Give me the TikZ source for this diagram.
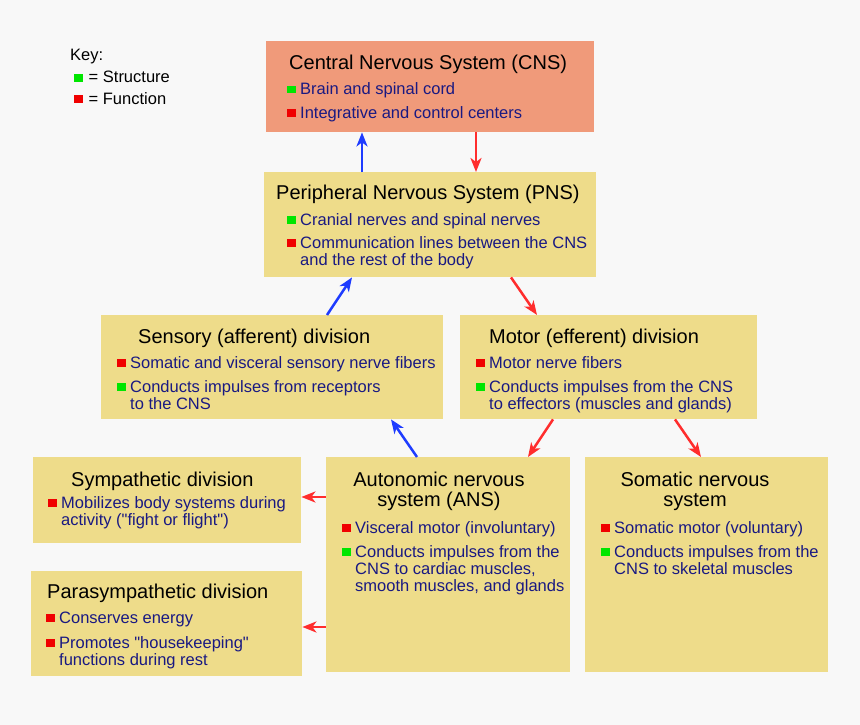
\documentclass[tikz,border=0pt]{standalone}
\usepackage{fontspec}
\setmainfont{Liberation Sans}[Ligatures=TeXOff]
\usetikzlibrary{arrows.meta}

\definecolor{bgcol}{RGB}{248,248,248}
\definecolor{cnscol}{RGB}{240,154,122}
\definecolor{boxcol}{RGB}{238,220,138}
\definecolor{navytext}{RGB}{25,25,130}
\definecolor{keygreen}{RGB}{0,230,0}
\definecolor{keyred}{RGB}{240,0,0}
\definecolor{arrowblue}{RGB}{30,60,255}
\definecolor{arrowred}{RGB}{255,45,45}

\newcommand{\titlefont}{\fontsize{20}{20}\selectfont}
\newcommand{\itemfont}{\fontsize{16.5}{17}\selectfont}
\newcommand{\bul}[1]{\textcolor{#1}{\rule[1.5pt]{8.5pt}{8pt}}\hspace{4.5pt}}
\newcommand{\ind}{\hspace*{13pt}}

\tikzstyle{block} = [rectangle, fill=boxcol, anchor=north west, inner sep=0pt]
\tikzstyle{heading} = [anchor=base west, inner sep=0pt, font=\titlefont, text=black]
\tikzstyle{itemlist} = [anchor=base west, inner sep=0pt, font=\itemfont, text=navytext]
\tikzstyle{arrowup} = [line width=2.5pt, draw=arrowblue, -{Stealth[length=14pt,width=11pt,inset=4pt]}]
\tikzstyle{arrowdown} = [line width=2.5pt, draw=arrowred, -{Stealth[length=14pt,width=11pt,inset=4pt]}]

\begin{document}
\begin{tikzpicture}[x = 1pt, y = -1pt]

% ----------------------------------------------------

  \fill[bgcol] (0,0) rectangle (860,725);
  \useasboundingbox (0,0) rectangle (860,725);

% key
  \node (key) [heading, font=\itemfont] at (70,61) {Key:};
  \node (keylist) [itemlist, text=black] at (74,83) {
  \begin{tabular}[t]{@{}l@{}}
    \bul{keygreen}\hspace{1.5pt}= Structure \\[4pt]
    \bul{keyred}\hspace{1.5pt}= Function
  \end{tabular}
  };

% ----------------------------------------------------

  \node (cns) [block, fill=cnscol, minimum width=328pt, minimum height=91pt] at (266,41) {};
  \node (cnstitle) [heading] at (289,70) {Central Nervous System (CNS)};
  \node (cnslist) [itemlist] at (287,95) {
  \begin{tabular}[t]{@{}l@{}}
    \bul{keygreen}Brain and spinal cord \\[6pt]
    \bul{keyred}Integrative and control centers
  \end{tabular}
  };

  \node (pns) [block, minimum width=332pt, minimum height=105pt] at (264,172) {};
  \node (pnstitle) [heading] at (276,199) {Peripheral Nervous System (PNS)};
  \node (pnslist) [itemlist] at (287,225) {
  \begin{tabular}[t]{@{}l@{}}
    \bul{keygreen}Cranial nerves and spinal nerves \\[6pt]
    \bul{keyred}Communication lines between the CNS \\
    \ind and the rest of the body
  \end{tabular}
  };

  \node (sensory) [block, minimum width=342pt, minimum height=104pt] at (101,315) {};
  \node (sensorytitle) [heading] at (138,343) {Sensory (afferent) division};
  \node (sensorylist) [itemlist] at (117,368) {
  \begin{tabular}[t]{@{}l@{}}
    \bul{keyred}Somatic and visceral sensory nerve fibers \\[7pt]
    \bul{keygreen}Conducts impulses from receptors \\
    \ind to the CNS
  \end{tabular}
  };

  \node (motor) [block, minimum width=297pt, minimum height=104pt] at (460,315) {};
  \node (motortitle) [heading] at (489,343) {Motor (efferent) division};
  \node (motorlist) [itemlist] at (476,368) {
  \begin{tabular}[t]{@{}l@{}}
    \bul{keyred}Motor nerve fibers \\[7pt]
    \bul{keygreen}Conducts impulses from the CNS \\
    \ind to effectors (muscles and glands)
  \end{tabular}
  };

  \node (symp) [block, minimum width=268pt, minimum height=86pt] at (33,457) {};
  \node (symptitle) [heading] at (71,486) {Sympathetic division};
  \node (symplist) [itemlist] at (48,508) {
  \begin{tabular}[t]{@{}l@{}}
    \bul{keyred}Mobilizes body systems during \\
    \ind activity ("fight or flight")
  \end{tabular}
  };

  \node (ans) [block, minimum width=244pt, minimum height=215pt] at (326,457) {};
  \node (anstitle) [heading, anchor=base] at (439,486) {
  \begin{tabular}[t]{@{}c@{}}
    Autonomic nervous \\
    system (ANS)
  \end{tabular}
  };
  \node (anslist) [itemlist] at (342,533) {
  \begin{tabular}[t]{@{}l@{}}
    \bul{keyred}Visceral motor (involuntary) \\[7pt]
    \bul{keygreen}Conducts impulses from the \\
    \ind CNS to cardiac muscles, \\
    \ind smooth muscles, and glands
  \end{tabular}
  };

  \node (somatic) [block, minimum width=243pt, minimum height=215pt] at (585,457) {};
  \node (somatictitle) [heading, anchor=base] at (695,486) {
  \begin{tabular}[t]{@{}c@{}}
    Somatic nervous \\
    system
  \end{tabular}
  };
  \node (somaticlist) [itemlist] at (601,533) {
  \begin{tabular}[t]{@{}l@{}}
    \bul{keyred}Somatic motor (voluntary) \\[7pt]
    \bul{keygreen}Conducts impulses from the \\
    \ind CNS to skeletal muscles
  \end{tabular}
  };

  \node (para) [block, minimum width=271pt, minimum height=105pt] at (31,571) {};
  \node (paratitle) [heading] at (47,598) {Parasympathetic division};
  \node (paralist) [itemlist] at (46,623) {
  \begin{tabular}[t]{@{}l@{}}
    \bul{keyred}Conserves energy \\[8pt]
    \bul{keyred}Promotes "housekeeping" \\
    \ind functions during rest
  \end{tabular}
  };

% ----------------------------------------------------

  \draw[arrowup] ([xshift=98pt]pns.north west) -- ([xshift=96pt]cns.south west);
  \draw[arrowdown] ([xshift=210pt]cns.south west) -- ([xshift=212pt]pns.north west);
  \draw[arrowup] ([xshift=226pt]sensory.north west) -- ([xshift=88pt]pns.south west);
  \draw[arrowdown] ([xshift=247pt]pns.south west) -- ([xshift=77pt]motor.north west);
  \draw[arrowup] ([xshift=91pt]ans.north west) -- ([xshift=290pt]sensory.south west);
  \draw[arrowdown] ([xshift=93pt]motor.south west) -- ([xshift=202pt]ans.north west);
  \draw[arrowdown] ([xshift=215pt]motor.south west) -- ([xshift=116pt]somatic.north west);
  \draw[arrowdown] ([yshift=-40pt]ans.north west) -- ([yshift=-40pt]symp.north east);
  \draw[arrowdown] ([yshift=-170pt]ans.north west) -- ([yshift=-56pt]para.north east);

\end{tikzpicture}
\end{document}
